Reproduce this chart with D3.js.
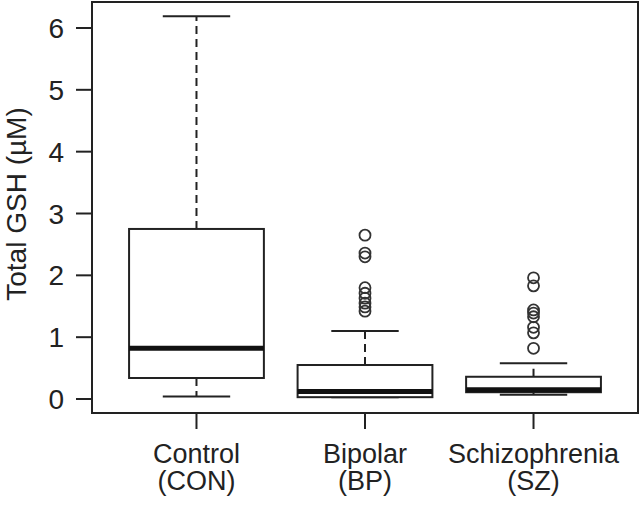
<!DOCTYPE html>
<meta charset="utf-8">
<style>
    body { margin: 0; background: #fff; }
    svg { display: block; font-family: "Liberation Sans", Arial, sans-serif; }
    .frame { fill: none; stroke: #222; stroke-width: 2; }
    .box { fill: #fff; stroke: #222; stroke-width: 2; }
    .med { stroke: #111; stroke-width: 5; }
    .whisk { stroke: #222; stroke-width: 2; stroke-dasharray: 8,5; }
    .cap { stroke: #222; stroke-width: 2; }
    .out { fill: none; stroke: #333; stroke-width: 1.8; }
    .axis text { fill: #222; font-size: 28px; }
    .axis .xl { font-size: 27px; }
    .axis line { stroke: #222; stroke-width: 2; }
</style>
<svg width="641" height="505"></svg>
<script src="https://d3js.org/d3.v7.min.js"></script>
<script>

// group labels
var groupNames = ["Control", "Bipolar", "Schizophrenia"];
var groupAbbr = ["(CON)", "(BP)", "(SZ)"];

// box stats (uM)
var lowWhisker = [0.04, 0.03, 0.07];
var q1 = [0.34, 0.03, 0.11];
var median = [0.82, 0.12, 0.15];
var q3 = [2.75, 0.55, 0.36];
var highWhisker = [6.19, 1.10, 0.58];

// outliers per group
var outBP = [2.65, 2.36, 2.30, 1.80, 1.71, 1.63, 1.55, 1.49, 1.42];
var outSZ = [1.96, 1.83, 1.44, 1.39, 1.33, 1.16, 1.07, 0.82];
var outliers = [[], outBP, outSZ];

var yTicks = [0, 1, 2, 3, 4, 5, 6];

var svg = d3.select("svg"),
    pl = 92, pr = 638, pt = 2, pb = 413;

var x = d3.scaleLinear().domain([0.38, 3.62]).range([pl, pr]);
var y = d3.scaleLinear().domain([-0.226, 6.42]).range([pb, pt]);
var boxW = x(1.4) - x(1);   // half width (0.8 total)
var capW = boxW / 2;

var groups = groupNames.map(function(n, i) {
    return {i: i + 1, lo: lowWhisker[i], q1: q1[i], med: median[i], q3: q3[i], hi: highWhisker[i], out: outliers[i]};
});

var g = svg.selectAll(".grp").data(groups).enter().append("g").attr("class", "grp");

// whiskers
g.append("line").attr("class", "whisk")
    .attr("x1", function(d) { return x(d.i); }).attr("x2", function(d) { return x(d.i); })
    .attr("y1", function(d) { return y(d.q3); }).attr("y2", function(d) { return y(d.hi); });
g.append("line").attr("class", "whisk")
    .attr("x1", function(d) { return x(d.i); }).attr("x2", function(d) { return x(d.i); })
    .attr("y1", function(d) { return y(d.q1); }).attr("y2", function(d) { return y(d.lo); });

// caps
g.append("line").attr("class", "cap")
    .attr("x1", function(d) { return x(d.i) - capW; }).attr("x2", function(d) { return x(d.i) + capW; })
    .attr("y1", function(d) { return y(d.hi); }).attr("y2", function(d) { return y(d.hi); });
g.append("line").attr("class", "cap")
    .attr("x1", function(d) { return x(d.i) - capW; }).attr("x2", function(d) { return x(d.i) + capW; })
    .attr("y1", function(d) { return y(d.lo); }).attr("y2", function(d) { return y(d.lo); });

// boxes
g.append("rect").attr("class", "box")
    .attr("x", function(d) { return x(d.i) - boxW; })
    .attr("width", boxW * 2)
    .attr("y", function(d) { return y(d.q3); })
    .attr("height", function(d) { return y(d.q1) - y(d.q3); });

g.append("line").attr("class", "med")
    .attr("x1", function(d) { return x(d.i) - boxW; }).attr("x2", function(d) { return x(d.i) + boxW; })
    .attr("y1", function(d) { return y(d.med); }).attr("y2", function(d) { return y(d.med); });

// outliers
g.selectAll(".out").data(function(d) { return d.out.map(function(v) { return {i: d.i, v: v}; }); })
    .enter().append("circle").attr("class", "out")
    .attr("cx", function(d) { return x(d.i); })
    .attr("cy", function(d) { return y(d.v); })
    .attr("r", 5.5);

// frame
svg.append("rect").attr("class", "frame")
    .attr("x", pl).attr("y", pt)
    .attr("width", pr - pl).attr("height", pb - pt);

// y axis
var ya = svg.append("g").attr("class", "axis");
ya.selectAll("line").data(yTicks).enter().append("line")
    .attr("x1", pl - 16).attr("x2", pl)
    .attr("y1", function(d) { return y(d); }).attr("y2", function(d) { return y(d); });
ya.selectAll("text").data(yTicks).enter().append("text")
    .attr("x", 64).attr("y", function(d) { return y(d); })
    .attr("dy", "0.36em").attr("text-anchor", "end")
    .text(function(d) { return d; });
ya.append("text")
    .attr("transform", "translate(26,204) rotate(-90)")
    .attr("text-anchor", "middle")
    .text("Total GSH (\u00b5M)");

// x axis
var xa = svg.append("g").attr("class", "axis");
xa.selectAll("line").data(groups).enter().append("line")
    .attr("x1", function(d) { return x(d.i); }).attr("x2", function(d) { return x(d.i); })
    .attr("y1", pb).attr("y2", pb + 16);
xa.selectAll(".l1").data(groupNames).enter().append("text").attr("class", "xl")
    .attr("x", function(d, i) { return x(i + 1); }).attr("y", 463)
    .attr("text-anchor", "middle").text(function(d) { return d; });
xa.selectAll(".l2").data(groupAbbr).enter().append("text").attr("class", "xl")
    .attr("x", function(d, i) { return x(i + 1); }).attr("y", 490)
    .attr("text-anchor", "middle").text(function(d) { return d; });

</script>
